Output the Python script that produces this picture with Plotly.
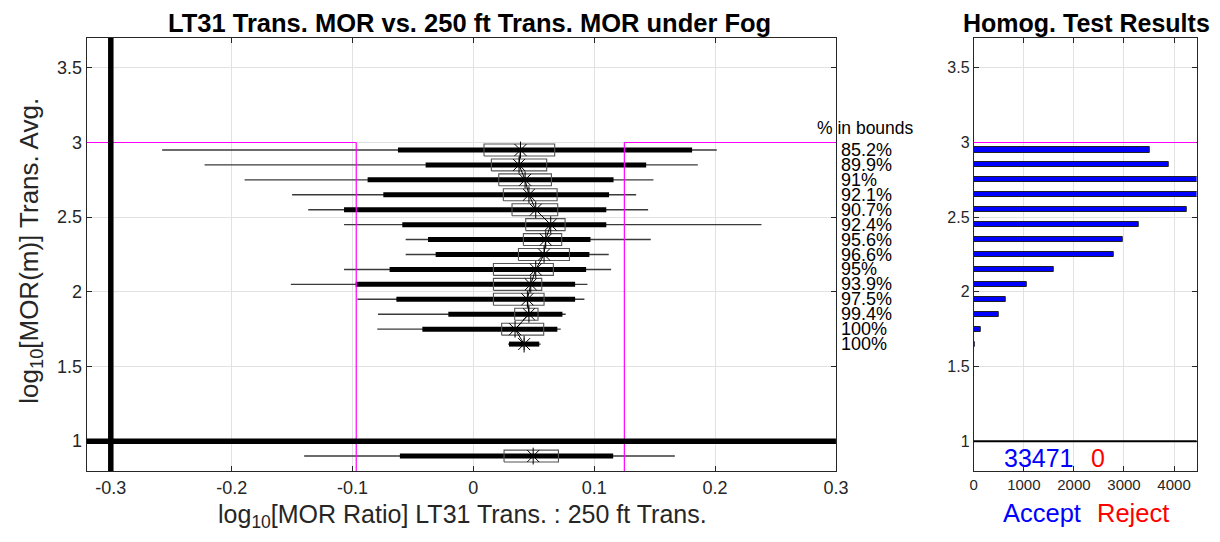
import math
import plotly.graph_objects as go

# ---------------- data ----------------
row_y = [2.95, 2.85, 2.75, 2.65, 2.55, 2.45, 2.35, 2.25, 2.15, 2.05, 1.95, 1.85, 1.75, 1.65]
whisk_lo = [-0.2575, -0.2224, -0.1893, -0.150, -0.1366, -0.107, -0.056, -0.056, -0.107, -0.151, -0.096, -0.0789, -0.0795, 0.0287]
thick_lo = [-0.0624, -0.0395, -0.0875, -0.0745, -0.107, -0.0588, -0.0375, -0.0312, -0.0693, -0.0974, -0.0637, -0.0207, -0.0422, 0.0295]
box_lo = [0.0088, 0.0149, 0.021, 0.0248, 0.032, 0.0433, 0.0414, 0.0373, 0.0166, 0.0166, 0.0166, 0.0342, 0.0234, 0.042]
median = [0.039, 0.0378, 0.0428, 0.046, 0.0516, 0.064, 0.0599, 0.0585, 0.0516, 0.0475, 0.0447, 0.046, 0.0345, 0.042]
box_hi = [0.0673, 0.0607, 0.0646, 0.0693, 0.0698, 0.0759, 0.0731, 0.0795, 0.0662, 0.0566, 0.0585, 0.0535, 0.0582, 0.042]
thick_hi = [0.181, 0.143, 0.116, 0.1123, 0.110, 0.110, 0.0969, 0.096, 0.0933, 0.0842, 0.0842, 0.0737, 0.0695, 0.0545]
whisk_hi = [0.2014, 0.1857, 0.149, 0.1347, 0.1446, 0.2384, 0.1468, 0.112, 0.114, 0.0944, 0.0919, 0.0764, 0.0723, 0.0557]
pct_labels = ["85.2%", "89.9%", "91%", "92.1%", "90.7%", "92.4%", "95.6%", "96.6%",
              "95%", "93.9%", "97.5%", "99.4%", "100%", "100%"]

all_y = 0.9
all_whisk_lo, all_thick_lo, all_box_lo, all_median, all_box_hi, all_thick_hi, all_whisk_hi = \
    -0.14, -0.0608, 0.0254, 0.0495, 0.0704, 0.1157, 0.1667

accept_counts = [3520, 3887, 4480, 4500, 4253, 3287, 2973, 2787, 1593, 1067, 633, 507, 133, 10]
accept_total = "33471"
reject_total = "0"

lower_bound = math.log10(0.8)
upper_bound = math.log10(4.0 / 3.0)
mor_limit = 3.0
x_ticks = [-0.3, -0.2, -0.1, 0, 0.1, 0.2, 0.3]
x_ticktext = ["-0.3", "-0.2", "-0.1", "0", "0.1", "0.2", "0.3"]
y_ticks = [1, 1.5, 2, 2.5, 3, 3.5]
y_ticktext = ["1", "1.5", "2", "2.5", "3", "3.5"]
x2_ticks = [0, 1000, 2000, 3000, 4000]

# ---------------- layout helpers ----------------
W, H = 1220, 542
OFFX, OFFY = 11.3, 8   # offset of the figure in the photographed page
SX = 0.987             # horizontal scale observed in the photographed page
FONT = "Liberation Sans, Arial, Helvetica, sans-serif"
AX = "#262626"
GRID = "#e2e2e2"


def px(x):
    return ((x - OFFX) / SX) / W


def py(y):
    return 1 - (y - OFFY) / H


half_h = 0.04

ys = row_y + [all_y]
wl = whisk_lo + [all_whisk_lo]
wh = whisk_hi + [all_whisk_hi]
tl = thick_lo + [all_thick_lo]
th = thick_hi + [all_thick_hi]
bl = box_lo + [all_box_lo]
bh = box_hi + [all_box_hi]
md = median + [all_median]

fig = go.Figure()

wx, wy = [], []
tx, ty = [], []
bx, by = [], []
for i, y in enumerate(ys):
    wx += [wl[i], wh[i], None]
    wy += [y, y, None]
    tx += [tl[i], th[i], None]
    ty += [y, y, None]
    bx += [bl[i], bh[i], bh[i], bl[i], bl[i], None]
    by += [y - half_h, y - half_h, y + half_h, y + half_h, y - half_h, None]

fig.add_trace(go.Scatter(x=wx, y=wy, mode="lines", line=dict(color="#3a3a3a", width=1.4),
                         xaxis="x", yaxis="y", hoverinfo="skip", showlegend=False))
fig.add_trace(go.Scatter(x=tx, y=ty, mode="lines", line=dict(color="black", width=5),
                         xaxis="x", yaxis="y", hoverinfo="skip", showlegend=False))
fig.add_trace(go.Scatter(x=bx, y=by, mode="lines", line=dict(color="#555555", width=1.1),
                         xaxis="x", yaxis="y", hoverinfo="skip", showlegend=False))
fig.add_trace(go.Scatter(x=median, y=row_y, mode="lines", line=dict(color="black", width=1),
                         xaxis="x", yaxis="y", hoverinfo="skip", showlegend=False))
fig.add_trace(go.Scatter(x=md, y=ys, mode="markers",
                         marker=dict(symbol="asterisk-open", size=14, color="black",
                                     line=dict(color="black", width=1)),
                         xaxis="x", yaxis="y", hoverinfo="skip", showlegend=False))

fig.add_trace(go.Bar(x=accept_counts, y=row_y, orientation="h", width=0.034,
                     marker=dict(color="#0000ff", line=dict(color="#202020", width=1)),
                     xaxis="x2", yaxis="y2", hoverinfo="skip", showlegend=False))

shapes = [
    dict(type="line", xref="x", yref="y", x0=lower_bound, x1=lower_bound, y0=0.8, y1=mor_limit,
         line=dict(color="#ff00ff", width=1.2)),
    dict(type="line", xref="x", yref="y", x0=upper_bound, x1=upper_bound, y0=0.8, y1=mor_limit,
         line=dict(color="#ff00ff", width=1.2)),
    dict(type="line", xref="x domain", yref="y", x0=0, x1=(lower_bound + 0.32) / 0.62, y0=mor_limit, y1=mor_limit,
         line=dict(color="#ff00ff", width=1.2)),
    dict(type="line", xref="x domain", yref="y", x0=(upper_bound + 0.32) / 0.62, x1=1, y0=mor_limit, y1=mor_limit,
         line=dict(color="#ff00ff", width=1.2)),
    dict(type="line", xref="x", yref="y domain", x0=-0.3, x1=-0.3, y0=0, y1=1,
         line=dict(color="black", width=5.5)),
    dict(type="line", xref="x domain", yref="y", x0=0, x1=1, y0=1, y1=1,
         line=dict(color="black", width=5.5)),
    dict(type="line", xref="x2 domain", yref="y2", x0=0, x1=1, y0=mor_limit, y1=mor_limit,
         line=dict(color="#ff00ff", width=1.2)),
    dict(type="line", xref="x2 domain", yref="y2", x0=0, x1=1, y0=1, y1=1,
         line=dict(color="black", width=2)),
]

annotations = []
for y, t in zip(row_y, pct_labels):
    annotations.append(dict(xref="x domain", yref="y", x=1.004, y=y, text=t, showarrow=False,
                            xanchor="left", yanchor="middle", font=dict(size=18, color="black", family=FONT)))
annotations += [
    dict(xref="paper", yref="paper", x=px(866), y=py(128), text="% in bounds", showarrow=False,
         xanchor="center", yanchor="middle", font=dict(size=17.5, color="black", family=FONT)),
    dict(xref="paper", yref="paper", x=px(469), y=py(23), text="<b>LT31 Trans. MOR vs. 250 ft Trans. MOR under Fog</b>",
         showarrow=False, xanchor="center", yanchor="middle", font=dict(size=25.5, color="black", family=FONT)),
    dict(xref="paper", yref="paper", x=px(1087), y=py(23), text="<b>Homog. Test Results</b>",
         showarrow=False, xanchor="center", yanchor="middle", font=dict(size=25, color="black", family=FONT)),
    dict(xref="paper", yref="paper", x=px(462), y=py(516), text="log<sub>10</sub>[MOR Ratio] LT31 Trans. : 250 ft Trans.",
         showarrow=False, xanchor="center", yanchor="middle", font=dict(size=25, color=AX, family=FONT)),
    dict(xref="paper", yref="paper", x=px(29), y=py(251), text="log<sub>10</sub>[MOR(m)] Trans. Avg.", textangle=-90,
         showarrow=False, xanchor="center", yanchor="middle", font=dict(size=26, color=AX, family=FONT)),
    dict(xref="paper", yref="paper", x=px(1039), y=py(458), text=accept_total,
         showarrow=False, xanchor="center", yanchor="middle", font=dict(size=25, color="#0000ff", family=FONT)),
    dict(xref="paper", yref="paper", x=px(1098), y=py(458), text=reject_total,
         showarrow=False, xanchor="center", yanchor="middle", font=dict(size=25, color="#ff0000", family=FONT)),
    dict(xref="paper", yref="paper", x=px(1042), y=py(513), text="Accept",
         showarrow=False, xanchor="center", yanchor="middle", font=dict(size=25.5, color="#0000ff", family=FONT)),
    dict(xref="paper", yref="paper", x=px(1133), y=py(513), text="Reject",
         showarrow=False, xanchor="center", yanchor="middle", font=dict(size=25.5, color="#ff0000", family=FONT)),
]

ydom = [py(471), py(38)]
common = dict(showgrid=True, gridcolor=GRID, gridwidth=1, showline=True, linecolor=AX, linewidth=1,
              mirror="all", ticks="inside", ticklen=5, tickcolor=AX, zeroline=False)

fig.update_layout(
    width=W, height=H,
    margin=dict(l=0, r=0, t=0, b=0),
    paper_bgcolor="white", plot_bgcolor="white",
    showlegend=False,
    bargap=0,
    xaxis=dict(domain=[px(86), px(836)], range=[-0.32, 0.3], tickvals=x_ticks, ticktext=x_ticktext,
               tickfont=dict(size=18, color=AX, family=FONT), anchor="y", **common),
    yaxis=dict(domain=ydom, range=[0.8, 3.7], tickvals=y_ticks, ticktext=y_ticktext,
               tickfont=dict(size=18, color=AX, family=FONT), anchor="x", **common),
    xaxis2=dict(domain=[px(974), px(1197)], range=[0, 4450], tickvals=x2_ticks,
                tickfont=dict(size=15, color=AX, family=FONT), anchor="y2", **common),
    yaxis2=dict(domain=ydom, range=[0.8, 3.7], tickvals=y_ticks, ticktext=y_ticktext,
                tickfont=dict(size=16, color=AX, family=FONT), anchor="x2", **common),
    shapes=shapes,
    annotations=annotations,
)

fig.write_html("out.html")
